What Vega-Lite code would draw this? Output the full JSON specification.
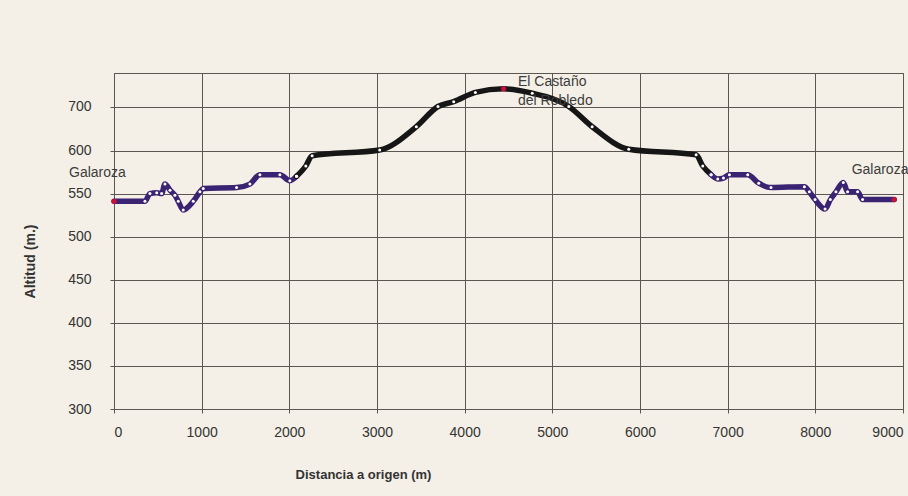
{
  "$schema": "https://vega.github.io/schema/vega-lite/v6.json",
  "width": 789,
  "height": 336,
  "autosize": {"type": "none"},
  "padding": {"left": 114, "top": 73, "right": 5, "bottom": 87},
  "background": "#f4f0e7",
  "config": {
    "view": {"stroke": "#5a5652", "strokeWidth": 1, "fill": "#f4f0e7"},
    "font": "Liberation Sans"
  },
  "datasets": {
    "perfil": [
      {"x": 0, "y": 541, "tramo": "a"},
      {"x": 353, "y": 541, "tramo": "a"},
      {"x": 410, "y": 550, "tramo": "a"},
      {"x": 487, "y": 551, "tramo": "a"},
      {"x": 543, "y": 550, "tramo": "a"},
      {"x": 581, "y": 561, "tramo": "a"},
      {"x": 639, "y": 554, "tramo": "a"},
      {"x": 695, "y": 548, "tramo": "a"},
      {"x": 733, "y": 541, "tramo": "a"},
      {"x": 790, "y": 531, "tramo": "a"},
      {"x": 904, "y": 541, "tramo": "a"},
      {"x": 980, "y": 552, "tramo": "a"},
      {"x": 1018, "y": 556, "tramo": "a"},
      {"x": 1398, "y": 557, "tramo": "a"},
      {"x": 1550, "y": 561, "tramo": "a"},
      {"x": 1664, "y": 572, "tramo": "a"},
      {"x": 1892, "y": 572, "tramo": "a"},
      {"x": 2006, "y": 565, "tramo": "a"},
      {"x": 2082, "y": 570, "tramo": "a"},
      {"x": 2082, "y": 570, "tramo": "b"},
      {"x": 2188, "y": 582, "tramo": "b"},
      {"x": 2260, "y": 594, "tramo": "b"},
      {"x": 3031, "y": 601, "tramo": "b"},
      {"x": 3449, "y": 654, "tramo": "b"},
      {"x": 3696, "y": 700, "tramo": "b"},
      {"x": 3875, "y": 711, "tramo": "b"},
      {"x": 4122, "y": 732, "tramo": "b"},
      {"x": 4444, "y": 740, "tramo": "b"},
      {"x": 4771, "y": 730, "tramo": "b"},
      {"x": 5188, "y": 700, "tramo": "b"},
      {"x": 5454, "y": 654, "tramo": "b"},
      {"x": 5872, "y": 603, "tramo": "b"},
      {"x": 6640, "y": 595, "tramo": "b"},
      {"x": 6716, "y": 582, "tramo": "b"},
      {"x": 6811, "y": 572, "tramo": "b"},
      {"x": 6811, "y": 572, "tramo": "c"},
      {"x": 6887, "y": 567, "tramo": "c"},
      {"x": 6952, "y": 568, "tramo": "c"},
      {"x": 7020, "y": 572, "tramo": "c"},
      {"x": 7229, "y": 572, "tramo": "c"},
      {"x": 7354, "y": 562, "tramo": "c"},
      {"x": 7494, "y": 557, "tramo": "c"},
      {"x": 7875, "y": 558, "tramo": "c"},
      {"x": 7932, "y": 552, "tramo": "c"},
      {"x": 7997, "y": 543, "tramo": "c"},
      {"x": 8111, "y": 532, "tramo": "c"},
      {"x": 8171, "y": 543, "tramo": "c"},
      {"x": 8235, "y": 552, "tramo": "c"},
      {"x": 8319, "y": 563, "tramo": "c"},
      {"x": 8368, "y": 552, "tramo": "c"},
      {"x": 8482, "y": 552, "tramo": "c"},
      {"x": 8539, "y": 543, "tramo": "c"},
      {"x": 8900, "y": 543, "tramo": "c"}
    ],
    "hitos": [
      {"x": 0, "y": 541},
      {"x": 4444, "y": 740},
      {"x": 8900, "y": 543}
    ],
    "rotulos": [
      {"x": -513, "y": 582, "nombre": "Galaroza"},
      {"x": 4608, "y": 771, "nombre": "El Castaño\ndel Robledo"},
      {"x": 8414, "y": 586, "nombre": "Galaroza"}
    ]
  },
  "encoding": {
    "x": {
      "field": "x",
      "type": "quantitative",
      "scale": {"domain": [0, 9000], "nice": false, "zero": false},
      "axis": {
        "values": [0, 1000, 2000, 3000, 4000, 5000, 6000, 7000, 8000, 9000],
        "format": "d",
        "grid": true,
        "gridColor": "#5a5652",
        "gridOpacity": 1,
        "gridWidth": 1,
        "domainColor": "#5a5652",
        "tickColor": "#5a5652",
        "tickSize": 4,
        "labelFont": "Liberation Sans",
        "labelFontSize": 14,
        "labelColor": "#333333",
        "labelPadding": 12,
        "labelFlush": 1,
        "title": "Distancia a origen (m)",
        "titleFont": "Liberation Sans",
        "titleFontSize": 13,
        "titleFontWeight": "bold",
        "titleColor": "#333333",
        "titleX": 249,
        "titleY": 65,
        "titleAlign": "center",
        "titleBaseline": "middle"
      }
    },
    "y": {
      "field": "y",
      "type": "quantitative",
      "scale": {"domain": [300, 600, 700, 776], "range": [336, 77.5, 33.5, 0], "nice": false, "zero": false},
      "axis": {
        "values": [300, 350, 400, 450, 500, 550, 600, 700],
        "format": "d",
        "grid": true,
        "gridColor": "#5a5652",
        "gridOpacity": 1,
        "gridWidth": 1,
        "domainColor": "#5a5652",
        "tickColor": "#5a5652",
        "tickSize": 4,
        "labelFont": "Liberation Sans",
        "labelFontSize": 14,
        "labelColor": "#333333",
        "labelPadding": 19,
        "title": "Altitud (m.)",
        "titleFont": "Liberation Sans",
        "titleFontSize": 14,
        "titleFontWeight": "bold",
        "titleColor": "#333333",
        "titleAngle": -90,
        "titleX": -84,
        "titleY": 188,
        "titleAlign": "center",
        "titleBaseline": "middle"
      }
    }
  },
  "layer": [
    {
      "data": {"name": "perfil"},
      "mark": {"type": "line", "interpolate": "monotone", "strokeWidth": 5.5, "strokeCap": "round", "strokeJoin": "round"},
      "encoding": {
        "color": {
          "field": "tramo",
          "type": "nominal",
          "scale": {"domain": ["a", "b", "c"], "range": ["#3b2373", "#161616", "#3b2373"]},
          "legend": null
        }
      }
    },
    {
      "data": {"name": "perfil"},
      "mark": {"type": "circle", "color": "#ffffff", "size": 9, "opacity": 1}
    },
    {
      "data": {"name": "hitos"},
      "mark": {"type": "circle", "color": "#c8103a", "size": 26, "opacity": 1}
    },
    {
      "data": {"name": "rotulos"},
      "mark": {"type": "text", "align": "left", "baseline": "top", "fontSize": 14, "color": "#3d3d3d", "lineHeight": 19, "lineBreak": "\n", "font": "Liberation Sans"},
      "encoding": {"text": {"field": "nombre", "type": "nominal"}}
    }
  ]
}
